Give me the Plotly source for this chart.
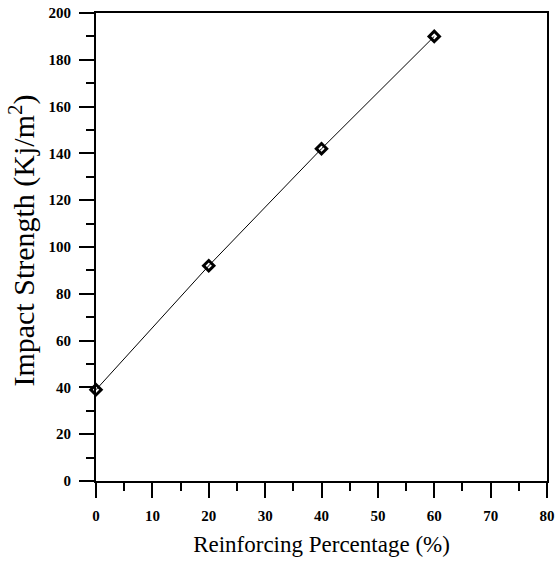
import plotly.graph_objects as go

reinforcing_pct = [0, 20, 40, 60]
impact_strength = [39, 92, 142, 190]
x_ticks = [0, 10, 20, 30, 40, 50, 60, 70, 80]
y_ticks = [0, 20, 40, 60, 80, 100, 120, 140, 160, 180, 200]

FONT = "Liberation Serif, Times New Roman, serif"

fig = go.Figure()
fig.add_trace(go.Scatter(
    x=reinforcing_pct, y=impact_strength,
    mode="lines+markers",
    line=dict(color="black", width=1),
    marker=dict(symbol="diamond-open", size=8, color="black", line=dict(width=3, color="black")),
    cliponaxis=False,
    showlegend=False,
))

axis_common = dict(
    showline=True, linecolor="black", linewidth=2, mirror=True,
    ticks="outside", ticklen=15, tickwidth=2, tickcolor="black",
    showgrid=False, zeroline=False, automargin=False,
    tickfont=dict(family=FONT, size=15, color="black"),
)

fig.update_xaxes(
    range=[0, 80], tickvals=x_ticks, ticktext=["<b>%d</b>" % v for v in x_ticks],
    minor=dict(ticks="outside", ticklen=8, tickwidth=2, tickcolor="black", dtick=5, tick0=0),
    title=dict(text="Reinforcing Percentage (%)", font=dict(family=FONT, size=23, color="black"), standoff=13),
    ticklabelstandoff=5,
    **axis_common,
)
fig.update_yaxes(
    range=[0, 200], tickvals=y_ticks, ticktext=["<b>%d</b>" % v for v in y_ticks],
    minor=dict(ticks="outside", ticklen=8, tickwidth=2, tickcolor="black", dtick=10, tick0=0),
    ticklabelstandoff=5,
    **axis_common,
)

fig.add_annotation(
    text="Impact Strength (Kj/m<sup>2</sup>)",
    xref="paper", yref="paper", x=-0.165, y=0.5, yshift=6,
    xanchor="center", yanchor="middle", textangle=-90, showarrow=False,
    font=dict(family=FONT, size=30, color="black"),
)

fig.update_layout(
    width=555, height=563,
    margin=dict(l=96, r=8, t=13, b=82),
    paper_bgcolor="white", plot_bgcolor="white",
)

fig.write_html("out.html")
